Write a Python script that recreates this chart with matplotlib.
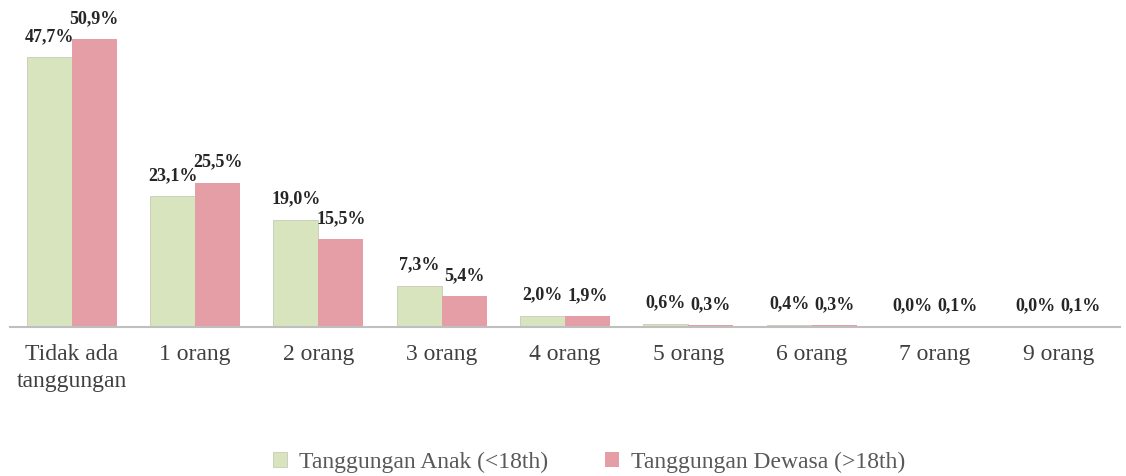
import matplotlib
matplotlib.use("Agg")
import matplotlib.pyplot as plt
import numpy as np

categories = ["Tidak ada\ntanggungan", "1 orang", "2 orang", "3 orang", "4 orang",
              "5 orang", "6 orang", "7 orang", "9 orang"]
anak = [47.7, 23.1, 19.0, 7.3, 2.0, 0.6, 0.4, 0.0, 0.0]
dewasa = [50.9, 25.5, 15.5, 5.4, 1.9, 0.3, 0.3, 0.1, 0.1]
series_names = ["Tanggungan Anak (<18th)", "Tanggungan Dewasa (>18th)"]

green = "#d7e4bd"
pink = "#e59ea5"

plt.rcParams['font.family'] = ['Liberation Serif', 'DejaVu Serif']

fig = plt.figure(figsize=(11.26, 4.76), dpi=100)
ax = fig.add_axes([0.0089, 0.313, 0.9858, 0.62])

x = np.arange(len(categories))
w = 0.365
b1 = ax.bar(x - w/2, anak, w, color=green, edgecolor="#c0c4b0", linewidth=0.5, label=series_names[0])
b2 = ax.bar(x + w/2, dewasa, w, color=pink, edgecolor="none", label=series_names[1])

ax.set_xlim(-0.5, len(categories) - 0.5)
ax.set_ylim(0, 52.2)

def fmt(v):
    return f"{v:.1f}%".replace(".", ",")

for bars, vals in ((b1, anak), (b2, dewasa)):
    for rect, v in zip(bars, vals):
        ax.annotate(fmt(v), (rect.get_x() + rect.get_width()/2, v),
                    xytext=(0, 15), textcoords="offset points",
                    ha="center", va="center", fontsize=13, fontweight="bold",
                    color="#262626")

for s in ("top", "right", "left"):
    ax.spines[s].set_visible(False)
ax.spines["bottom"].set_color("#bfbfbf")
ax.spines["bottom"].set_linewidth(1.5)
ax.set_yticks([])
ax.set_xticks(x)
ax.set_xticklabels(categories, fontsize=17, color="#404040", linespacing=1.4)
ax.tick_params(axis="x", length=0, pad=12)

fig.legend(handles=[b1, b2], labels=series_names, loc="center", bbox_to_anchor=(0.523, 0.028),
           ncol=2, frameon=False, fontsize=17, handlelength=0.6, handleheight=0.6,
           columnspacing=2.4, handletextpad=0.5, labelcolor="#595959")

fig.savefig("out.png", dpi=100)
